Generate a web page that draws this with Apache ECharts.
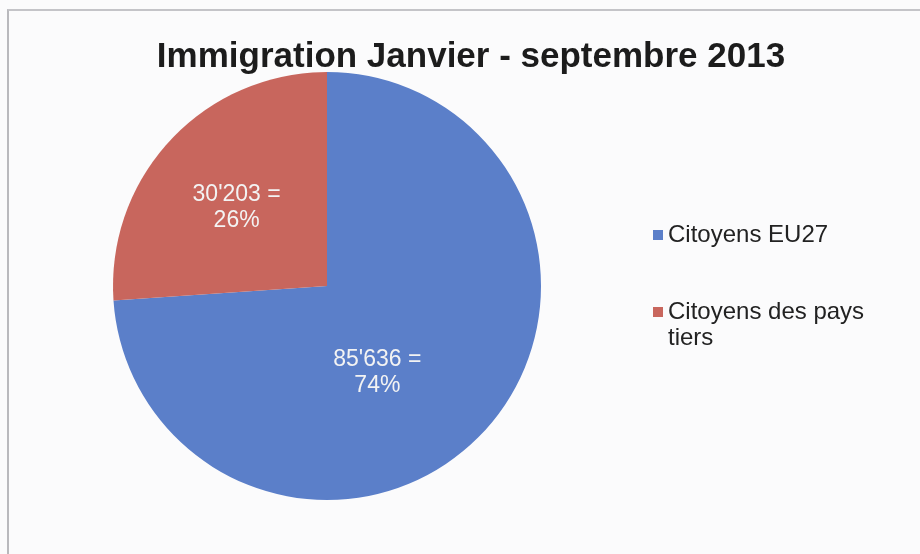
<!DOCTYPE html>
<html>
<head>
<meta charset="utf-8">
<script src="https://cdn.jsdelivr.net/npm/echarts@6/dist/echarts.min.js"></script>
<style>
  html, body { margin: 0; padding: 0; background: #fbfbfc; }
  #main { width: 920px; height: 554px; }
  /* cadre gris du graphique (seuls les bords haut et gauche sont visibles) */
  .frame { position: absolute; left: 7px; top: 9px; width: 940px; height: 600px;
           border-left: 2px solid #b9b9bd; border-top: 2px solid #c4c4c8; pointer-events: none; }
</style>
</head>
<body>
<div id="main"></div>
<div class="frame"></div>
<script>
// Immigration Janvier - septembre 2013
var titre = 'Immigration Janvier - septembre 2013';
var categories = ['Citoyens EU27', 'Citoyens des pays tiers'];
var valeurs = [85636, 30203];
var couleurs = ['#5b7fc9', '#c8665d'];

// 85636 -> 85'636
var fmt = function(v){
  return String(v).replace(/\B(?=(\d{3})+(?!\d))/g, "'");
};

var mChart = echarts.init(document.getElementById('main'));

var data = [];
for (var i = 0; i < categories.length; i++) {
  data.push({ name: categories[i], value: valeurs[i], itemStyle: { color: couleurs[i] } });
}

var option = {
  backgroundColor: '#fbfbfc',
  animation: false,
  title: {
    text: titre,
    left: 466,
    top: 35,
    textAlign: 'center',
    textStyle: { fontFamily: 'Liberation Sans', fontWeight: 'bold', fontSize: 35, color: '#1c1c1c' }
  },
  legend: {
    orient: 'vertical',
    left: 648,
    top: 217,
    itemWidth: 10,
    itemHeight: 10,
    itemGap: 25,
    icon: 'rect',
    // ligne vide en tête : le carré reste aligné sur la première ligne du texte
    formatter: function(name){
      return name.indexOf(' tiers') > 0 ? '\n' + name.replace(' tiers', '\ntiers') : name;
    },
    textStyle: { fontFamily: 'Liberation Sans', fontSize: 24, color: '#222', lineHeight: 26 },
    data: categories
  },
  series: [
    {
      type: 'pie',
      center: [327, 286],
      radius: 214,
      startAngle: 90,
      clockwise: true,
      label: {
        show: true,
        position: 'inside',
        fontFamily: 'Liberation Sans',
        fontSize: 23,
        lineHeight: 26,
        color: '#f3f3f3',
        formatter: function(p){ return fmt(p.value) + ' =\n' + Math.round(p.percent) + '%'; }
      },
      labelLine: { show: false },
      emphasis: { disabled: true },
      labelLayout: function(p){
        return p.dataIndex === 0 ? { dx: -30, dy: 12 } : { dx: -10, dy: -3 };
      },
      data: data
    }
  ]
};
mChart.setOption(option);
</script>
</body>
</html>
